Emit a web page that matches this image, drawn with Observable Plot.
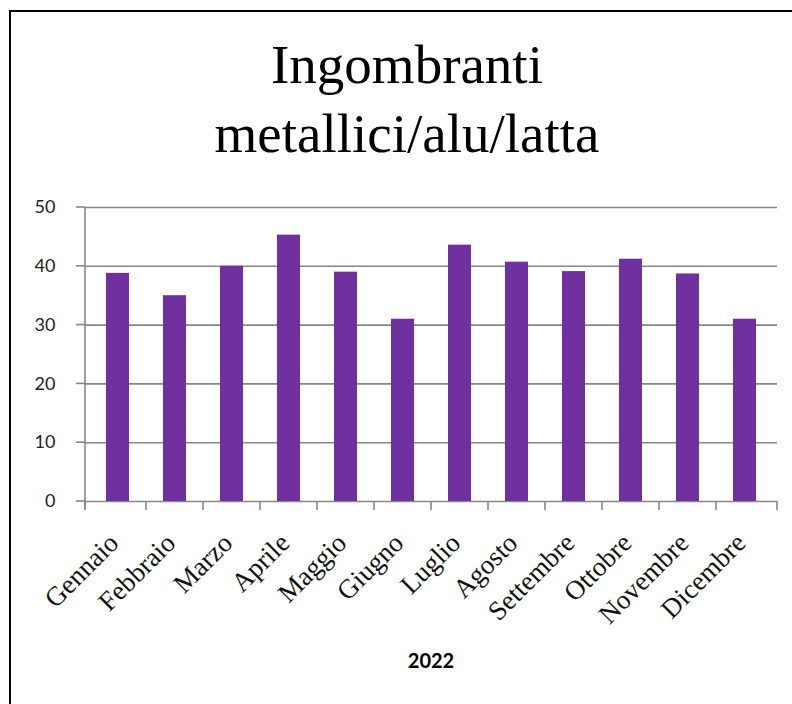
<!DOCTYPE html>
<html>
<head>
<meta charset="utf-8">
<script src="https://cdn.jsdelivr.net/npm/d3@7"></script>
<script src="https://cdn.jsdelivr.net/npm/@observablehq/plot@0.6"></script>
<style>
  html, body { margin: 0; padding: 0; width: 792px; height: 704px; overflow: hidden; background: #fff; }
  #frame { position: absolute; left: 9px; top: 10px; width: 840px; height: 760px; border: 2px solid #000; box-sizing: border-box; }
  #title { position: absolute; left: 0; top: 30px; width: 814px; text-align: center; font-family: "Liberation Serif", serif; font-size: 55px; line-height: 69px; color: #000; }
  #chart { position: absolute; left: 0; top: 190px; }
  #xlabel { position: absolute; left: 0; top: 648px; width: 862px; text-align: center; font-family: Lato, sans-serif; font-weight: bold; font-size: 20px; line-height: 24px; color: #000; }
</style>
</head>
<body>
<div id="frame"></div>
<div id="title">Ingombranti<br>metallici/alu/latta</div>
<div id="chart"></div>
<div id="xlabel">2022</div>
<script>
const months = ["Gennaio", "Febbraio", "Marzo", "Aprile", "Maggio", "Giugno", "Luglio", "Agosto", "Settembre", "Ottobre", "Novembre", "Dicembre"];
const values = [38.8, 35.0, 40.0, 45.3, 39.0, 31.0, 43.6, 40.7, 39.1, 41.2, 38.7, 31.0];
const yTicks = [0, 10, 20, 30, 40, 50];

const data = months.map((m, i) => ({month: m, value: values[i]}));
const gridColor = "#878787";

// axis frame: y-axis line, y tick stubs, category boundary ticks
function axisLines(index, scales, values_, dimensions) {
  const x = scales.x, y = scales.y;
  const bw = typeof x.bandwidth === "function" ? x.bandwidth() : (x.bandwidth || 0);
  const {width, height, marginLeft, marginRight, marginBottom} = dimensions;
  const y0 = height - marginBottom;
  const tickLen = 9;
  const starts = months.map(m => x(m));
  const bounds = [marginLeft];
  for (let i = 1; i < starts.length; i++) bounds.push((starts[i - 1] + bw + starts[i]) / 2);
  bounds.push(width - marginRight);
  const g = d3.create("svg:g").attr("stroke", gridColor).attr("stroke-width", 1.6);
  g.append("line").attr("x1", marginLeft).attr("x2", marginLeft)
    .attr("y1", y(d3.max(yTicks))).attr("y2", y0 + tickLen);
  for (const t of yTicks) {
    g.append("line").attr("x1", marginLeft - tickLen).attr("x2", marginLeft)
      .attr("y1", y(t)).attr("y2", y(t));
  }
  for (const b of bounds) {
    g.append("line").attr("x1", b).attr("x2", b).attr("y1", y0).attr("y2", y0 + tickLen);
  }
  return g.node();
}

const chart = Plot.plot({
  width: 792,
  height: 440,
  marginLeft: 85,
  marginRight: 15,
  marginTop: 17,
  marginBottom: 129,
  style: {fontFamily: "Lato, sans-serif", color: "#222", background: "transparent", overflow: "visible"},
  x: {domain: months, paddingInner: 0.6, paddingOuter: 0.3, label: null},
  y: {domain: [0, 50], label: null},
  marks: [
    Plot.gridY(yTicks, {stroke: gridColor, strokeOpacity: 1, strokeWidth: 1.6}),
    Plot.barY(data, {x: "month", y: "value", fill: "#7030A0"}),
    axisLines,
    Plot.axisY({ticks: yTicks, tickSize: 0, tickPadding: 30, fontSize: 18, fill: "#222", label: null}),
    Plot.axisX({tickSize: 0, tickRotate: -45, tickPadding: 37, dx: -4, fontSize: 27, fontFamily: "Liberation Serif, serif", fill: "#111", label: null})
  ]
});
document.getElementById("chart").appendChild(chart);
</script>
</body>
</html>
